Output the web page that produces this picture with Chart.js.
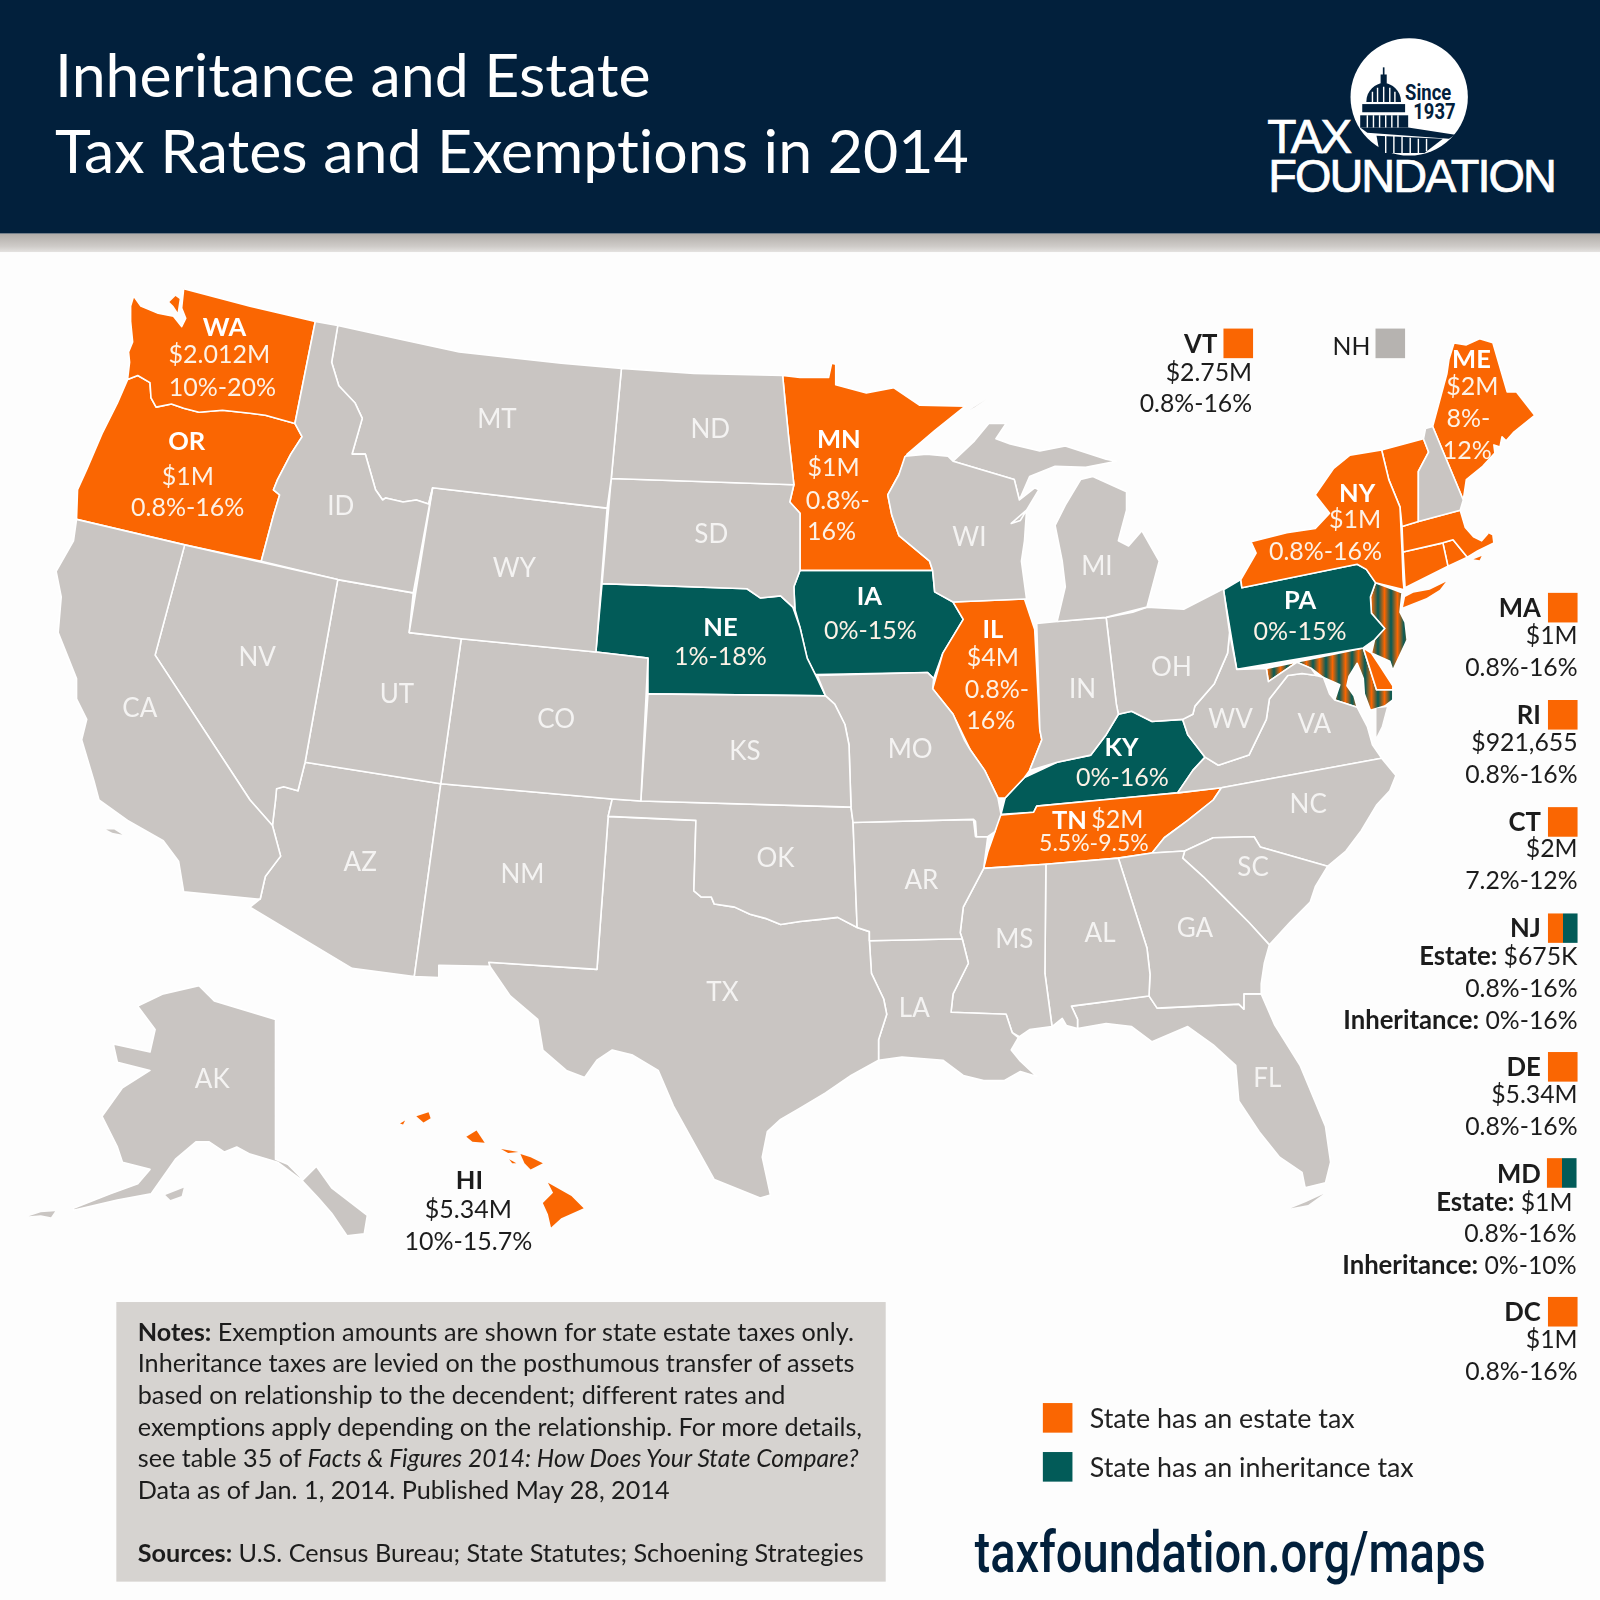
<!DOCTYPE html>
<html>
<head>
<meta charset="utf-8">
<title>Inheritance and Estate Tax Rates and Exemptions in 2014</title>
<script src="https://cdn.jsdelivr.net/npm/chart.js@4"></script>
<style>
html, body { margin: 0; padding: 0; background: #fdfdfd; }
#wrap { position: relative; width: 1600px; height: 1600px; overflow: hidden; }
#map { position: absolute; left: 0; top: 0; }
/* overlay is laid out on the same 1568 grid as the map axes */
#overlay { position: absolute; left: 0; top: 0; width: 1568px; height: 1568px; transform: scale(1.020408); transform-origin: 0 0; font-family: Lato, sans-serif; font-variant-ligatures: none; pointer-events: none; }
#header { position: absolute; left: 0; top: 0; width: 1568px; height: 229px; background: #02203c; }
#band { position: absolute; left: 0; top: 229px; width: 1568px; height: 18px; background: linear-gradient(#b0aca8, #cfccc9 70%, #e4e2e0); }
.title { position: absolute; left: 54px; color: #fff; font-size: 59.6px; font-weight: 400; white-space: nowrap; line-height: 70px; }
.key { position: absolute; color: #1c1c1c; font-size: 24.3px; white-space: nowrap; transform: translate(-100%, -50%); line-height: 30px; }
.key b { font-size: 25.2px; }
.swatch { position: absolute; width: 29px; height: 29px; }
#notes { position: absolute; left: 114px; top: 1276px; width: 754px; height: 274px; background: #d6d3d0; }
.note { position: absolute; left: 21px; color: #1c1c1c; font-size: 24.7px; white-space: nowrap; line-height: 30px; transform: translateY(-50%); }
.note i { font-size: 24.1px; }
.legendText { position: absolute; left: 1068px; color: #222; font-size: 26.3px; white-space: nowrap; line-height: 30px; transform: translateY(-50%); }
#url { position: absolute; left: 955px; top: 1490px; color: #02203c; font-family: Roboto, sans-serif; font-weight: 500; font-size: 56px; line-height: 64px; white-space: nowrap; transform-origin: 0 0; transform: scaleX(0.824); }
.logo { position: absolute; color: #fff; font-family: "Liberation Sans", sans-serif; white-space: nowrap; }
</style>
</head>
<body>
<div id="wrap">
  <canvas id="map" width="1600" height="1600"></canvas>
  <div id="overlay"></div>
</div>
<script>
// State outlines on a 1568 x 1568 map grid, as [x, y]
const WA = [[180,283],[245,300],[309,315],[289,415],[260,407],[245,405],[218,402],[195,404],[180,400],[168,396],[153,399],[148,390],[147,375],[135,368],[125,372],[127,355],[126,345],[130,335],[128,315],[128,300],[131,290],[138,300],[155,307],[170,310],[178,320],[182,312],[178,302]];
const WA_ISLAND = [[166,296],[172,290],[176,293],[174,306],[170,300]];
const OR = [[125,372],[135,368],[147,375],[148,390],[153,399],[168,396],[180,400],[195,404],[218,402],[245,405],[260,407],[289,415],[296,428],[285,445],[272,470],[268,480],[274,485],[268,505],[256,550],[181,534],[75,509],[76,480],[85,460],[100,425],[115,395]];
const CA = [[75,509],[181,534],[152,642],[245,784],[267,809],[275,839],[260,859],[255,881],[252,881],[180,874],[175,844],[160,824],[125,804],[97,784],[92,765],[80,725],[85,705],[75,685],[75,665],[67,645],[57,620],[60,585],[55,560],[72,530]];
const CA_ISLANDS = [[104,813],[112,813],[120,818],[110,816]];
const NV = [[181,534],[331,568],[299,747],[292,775],[278,771],[271,773],[270,784],[267,809],[245,784],[152,642]];
const ID = [[309,315],[331,319],[325,355],[332,378],[348,395],[355,410],[345,445],[358,445],[368,480],[375,490],[378,488],[395,492],[408,490],[420,494],[424,478],[405,581],[331,568],[256,550],[268,505],[274,485],[268,480],[272,470],[285,445],[296,428],[289,415]];
const MT = [[331,319],[390,332],[450,345],[550,356],[609,361],[599,469],[595,498],[424,478],[420,494],[408,490],[395,492],[378,488],[375,490],[368,480],[358,445],[345,445],[355,410],[348,395],[332,378],[325,355]];
const ND = [[609,361],[680,366],[767,368],[770,400],[773,430],[778,475],[599,469]];
const SD = [[599,469],[778,475],[774,492],[784,503],[784,559],[778,575],[779,597],[777,595],[765,584],[745,586],[732,577],[590,572]];
const NE = [[590,572],[732,577],[745,586],[765,584],[777,595],[784,615],[791,645],[801,665],[809,682],[635,680],[635,645],[584,639]];
const WY = [[424,478],[595,498],[584,639],[452,626],[401,620]];
const UT = [[331,568],[405,581],[401,620],[452,626],[432,768],[299,747]];
const CO = [[452,626],[584,639],[635,645],[628,785],[600,783],[432,768]];
const KS = [[635,680],[809,682],[818,690],[828,710],[832,730],[834,791],[628,785]];
const MO = [[801,662],[909,659],[915,665],[914,675],[934,700],[945,725],[951,735],[965,755],[978,782],[981,798],[975,815],[968,820],[957,820],[956,805],[954,803],[836,806],[834,791],[832,730],[828,710],[818,690],[809,682]];
const AR = [[836,806],[954,803],[956,820],[968,820],[964,851],[944,889],[941,914],[943,920],[852,922],[852,913],[840,909]];
const OK = [[600,783],[628,785],[834,791],[836,806],[840,909],[821,899],[804,901],[784,903],[765,906],[750,900],[735,896],[720,889],[700,886],[697,879],[687,879],[680,873],[682,804],[596,800]];
const NM = [[432,768],[600,783],[596,800],[585,950],[479,943],[480,947],[430,946],[430,958],[406,957]];
const AZ = [[299,747],[432,768],[406,957],[345,949],[245,889],[255,881],[260,859],[275,839],[267,809],[270,784],[271,773],[278,771],[292,775]];
const TX = [[596,800],[682,804],[680,873],[687,879],[697,879],[700,886],[720,889],[735,896],[750,900],[765,906],[784,903],[804,901],[821,899],[840,909],[852,913],[852,922],[854,954],[866,979],[869,994],[861,1019],[861,1039],[834,1054],[809,1071],[784,1086],[765,1097],[752,1109],[747,1134],[755,1171],[745,1174],[700,1156],[685,1129],[660,1084],[645,1049],[620,1034],[600,1029],[585,1039],[573,1056],[555,1049],[532,1029],[527,999],[500,976],[480,947],[479,943],[585,950]];
const LA = [[852,922],[943,920],[949,944],[934,974],[932,992],[986,994],[992,1012],[998,1017],[991,1029],[1000,1040],[1016,1055],[1000,1050],[984,1059],[964,1059],[944,1054],[924,1039],[884,1036],[861,1039],[861,1019],[869,994],[866,979],[854,954]];
const MS = [[964,851],[1025,847],[1024,954],[1031,1006],[1009,1009],[999,1016],[992,1012],[986,994],[932,992],[934,974],[949,944],[943,920],[941,914],[944,889]];
const AL = [[1025,847],[1096,841],[1124,929],[1127,955],[1126,976],[1050,986],[1056,999],[1056,1008],[1045,1005],[1041,998],[1031,1006],[1024,954]];
const GA = [[1096,841],[1129,836],[1161,834],[1159,841],[1179,859],[1199,879],[1224,904],[1244,926],[1239,944],[1236,964],[1236,974],[1219,974],[1219,989],[1214,984],[1134,988],[1126,976],[1127,955],[1124,929]];
const FL = [[1050,986],[1126,976],[1134,988],[1214,984],[1219,989],[1219,974],[1236,974],[1249,1004],[1274,1044],[1299,1104],[1304,1139],[1299,1159],[1279,1164],[1276,1149],[1254,1134],[1234,1109],[1214,1079],[1211,1044],[1189,1024],[1164,1006],[1129,1021],[1109,1006],[1084,1003],[1056,1008],[1056,999]];
const FL_KEYS = [[1265,1184],[1280,1178],[1297,1170],[1282,1181]];
const SC = [[1159,841],[1161,834],[1189,821],[1229,820],[1235,830],[1301,849],[1289,869],[1284,884],[1264,904],[1244,926],[1224,904],[1199,879],[1179,859]];
const NC = [[1197,772],[1354,743],[1368,760],[1362,775],[1349,789],[1334,814],[1319,834],[1301,849],[1235,830],[1229,820],[1189,821],[1161,834],[1129,836],[1141,821],[1164,804],[1189,784]];
const TN = [[979,799],[1013,796],[1016,790],[1100,782],[1154,777],[1197,772],[1189,784],[1164,804],[1141,821],[1129,836],[1096,841],[1025,847],[964,851],[968,835],[975,815]];
const KY = [[981,798],[985,782],[1004,762],[1036,747],[1069,740],[1084,720],[1096,700],[1109,697],[1129,707],[1159,705],[1164,720],[1181,742],[1169,755],[1154,777],[1100,782],[1016,790],[1013,796]];
const IL = [[934,590],[1004,587],[1014,617],[1019,715],[1021,725],[1009,755],[1004,762],[985,782],[978,782],[965,755],[951,735],[934,700],[914,675],[924,640],[944,607]];
const IA = [[784,559],[914,559],[916,580],[934,590],[944,607],[924,640],[915,665],[909,659],[799,661],[791,645],[784,615],[779,597],[778,575]];
const MN = [[767,368],[784,370],[812,370],[815,356],[819,357],[819,377],[849,385],[876,380],[901,397],[946,398],[916,422],[889,445],[881,465],[870,485],[874,505],[881,525],[911,550],[914,559],[784,559],[784,503],[774,492],[778,475],[773,430],[770,400]];
const WI = [[887,447],[908,445],[929,447],[934,452],[994,470],[999,490],[1014,478],[1018,480],[1000,510],[991,513],[1006,500],[1004,530],[1001,550],[1006,587],[1004,587],[934,590],[916,580],[914,559],[911,550],[881,525],[874,505],[870,485],[881,465]];
const MI_UPPER = [[934,452],[955,432],[969,415],[986,415],[976,430],[990,435],[1019,442],[1044,437],[1084,450],[1094,452],[1064,458],[1034,457],[1009,467],[999,490],[994,470]];
const MI_ISLE = [[950,402],[967,391],[955,399]];
const MI_LOWER = [[1036,609],[1044,575],[1041,550],[1034,515],[1044,495],[1059,470],[1071,467],[1104,482],[1104,500],[1096,530],[1106,535],[1119,520],[1136,550],[1124,595],[1084,605]];
const IN = [[1016,611],[1036,609],[1084,605],[1094,690],[1096,700],[1084,720],[1069,740],[1036,747],[1009,755],[1021,725],[1019,715]];
const OH = [[1084,605],[1110,600],[1124,595],[1160,597],[1199,577],[1205,620],[1203,640],[1190,670],[1171,692],[1169,700],[1159,705],[1129,707],[1109,697],[1096,700],[1094,690]];
const WV = [[1205,620],[1212,656],[1241,655],[1243,668],[1262,655],[1271,649],[1285,655],[1290,662],[1276,660],[1262,662],[1244,685],[1241,705],[1224,740],[1194,750],[1181,742],[1164,720],[1159,705],[1169,700],[1171,692],[1190,670],[1203,640]];
const VA = [[1154,777],[1169,755],[1181,742],[1194,750],[1224,740],[1241,705],[1244,685],[1262,662],[1276,660],[1290,662],[1297,664],[1303,680],[1308,686],[1330,693],[1340,712],[1345,730],[1354,743],[1197,772]];
const VA_SHORE = [[1349,694],[1359,693],[1354,712],[1349,722]];
const PA = [[1199,578],[1216,568],[1217,576],[1330,553],[1339,558],[1348,571],[1343,585],[1344,601],[1357,616],[1347,627],[1336,635],[1212,656]];
const NY = [[1216,568],[1231,542],[1226,531],[1261,522],[1289,518],[1303,503],[1289,485],[1307,459],[1323,446],[1354,441],[1361,470],[1372,497],[1374,540],[1375,568],[1376,578],[1348,571],[1339,558],[1330,553],[1217,576]];
const LONG_ISLAND = [[1377,585],[1385,581],[1401,578],[1417,570],[1411,578],[1398,586],[1375,595]];
const NJ = [[1348,571],[1374,581],[1372,600],[1377,610],[1379,627],[1365,657],[1362,648],[1344,640],[1347,627],[1357,616],[1344,601],[1343,585]];
const DE = [[1336,635],[1344,640],[1352,652],[1365,672],[1365,676],[1349,676]];
const MD = [[1241,655],[1336,635],[1349,676],[1365,676],[1365,686],[1357,692],[1343,696],[1337,680],[1336,665],[1330,650],[1322,663],[1320,672],[1327,682],[1330,693],[1308,686],[1313,671],[1297,664],[1285,655],[1271,649],[1262,655],[1243,668]];
const CT = [[1375,541],[1414,532],[1419,555],[1377,576]];
const RI = [[1414,532],[1424,529],[1438,546],[1419,555]];
const MA = [[1374,516],[1390,511],[1431,500],[1436,517],[1444,526],[1452,530],[1458,523],[1455,520],[1463,524],[1464,532],[1448,540],[1438,546],[1424,529],[1414,532],[1375,541]];
const MA_ISLAND = [[1444,548],[1452,545],[1450,549]];
const VT = [[1354,441],[1395,430],[1400,443],[1390,462],[1390,511],[1374,516],[1372,497],[1361,470]];
const NH = [[1397,420],[1404,418],[1434,490],[1431,500],[1390,511],[1390,462],[1400,443],[1395,430]];
const ME = [[1404,418],[1411,392],[1418,366],[1420,352],[1425,336],[1437,338],[1450,332],[1463,336],[1477,384],[1486,384],[1504,407],[1483,424],[1476,432],[1472,428],[1470,438],[1464,436],[1465,444],[1453,457],[1437,470],[1434,490]];
const AK = [[135,986],[160,974],[195,966],[210,981],[270,999],[270,1136],[282,1141],[297,1156],[310,1143],[325,1164],[360,1191],[357,1209],[340,1211],[325,1189],[312,1174],[295,1156],[272,1139],[245,1131],[232,1124],[220,1129],[205,1119],[192,1119],[172,1136],[148,1170],[115,1176],[72,1186],[72,1184],[108,1170],[135,1160],[147,1146],[120,1139],[115,1124],[100,1094],[120,1066],[147,1049],[115,1041],[111,1023],[147,1031],[152,1009]];
const AK_KODIAK = [[162,1171],[180,1164],[178,1172],[167,1176]];
const AK_CHAIN = [[28,1192],[40,1188],[54,1187],[50,1193],[40,1191]];
const HI_BIG = [[537,1159],[560,1172],[572,1184],[550,1194],[540,1203],[537,1190],[532,1179],[542,1169]];
const HI_MAUI = [[510,1131],[520,1134],[532,1140],[520,1146],[514,1140]];
const HI_MOLOKAI = [[491,1126],[508,1129],[498,1130]];
const HI_LANAI = [[499,1136],[506,1140],[502,1140]];
const HI_OAHU = [[457,1114],[467,1108],[475,1120],[463,1119]];
const HI_KAUAI = [[408,1094],[420,1090],[422,1096],[415,1100]];
const HI_NIIHAU = [[392,1101],[397,1098],[395,1102]];

// Which outlines belong to which tax group
const noTaxShapes = [CA, NV, ID, MT, ND, SD, WY, UT, CO, KS, MO, AR, OK, NM, AZ, TX, LA, MS, AL, GA, FL, SC, NC, WI, MI_UPPER, MI_LOWER, IN, OH, WV, VA, NH, AK];
const noTaxIslands = [CA_ISLANDS, FL_KEYS, MI_ISLE, VA_SHORE, AK_KODIAK, AK_CHAIN];
const estateShapes = [WA, OR, MN, IL, TN, NY, VT, MA, CT, RI, ME, DE];
const estateIslands = [WA_ISLAND, LONG_ISLAND, MA_ISLAND, HI_BIG, HI_MAUI, HI_MOLOKAI, HI_LANAI, HI_OAHU, HI_KAUAI, HI_NIIHAU];
const inheritanceShapes = [NE, IA, KY, PA];
const bothShapes = [NJ, MD];

// Text on the map: [label, x, y]
const plainStateLabels = [['MT',487,411],['ND',696,421],['SD',697,524],['WY',504,557],['ID',334,496],['NV',252,644],['UT',389,681],['CO',545,705],['KS',730,737],['CA',137,694],['AZ',353,845],['NM',512,857],['TX',708,973],['OK',760,841],['AR',903,863],['LA',896,988],['MS',994,921],['AL',1078,915],['GA',1171,910],['FL',1242,1057],['SC',1228,850],['NC',1282,789],['VA',1288,710],['WV',1206,705],['OH',1148,654],['IN',1061,676],['MI',1075,555],['WI',950,527],['MO',892,735],['AK',208,1058]];
const taxedStateNames = [['WA',220,321],['OR',183,433],['MN',822,431],['NE',706,615],['IA',852,585],['IL',973,617],['KY',1099,733],['TN',1048,804],['PA',1274,589],['NY',1330,484],['ME',1442,353]];
const taxedStateValues = [['$2.012M',215,348],['10%-20%',218,380],['$1M',184,467],['0.8%-16%',184,498],['$1M',817,459],['0.8%-',821,491],['16%',815,521],['1%-18%',706,644],['0%-15%',853,618],['$4M',973,645],['0.8%-',977,676],['16%',971,707],['0%-16%',1100,762],['$2M',1095,804],['0%-15%',1274,619],['$1M',1328,510],['0.8%-16%',1299,541],['$2M',1443,379],['8%-',1439,411],['12%',1438,442]];
const tennesseeRate = ['5.5%-9.5%',1072,827];
const hawaiiName = ['HI',460,1157];
const hawaiiValues = [['$5.34M',459,1186],['10%-15.7%',459,1217]];

// Side key: [html, right edge, y]
const keyLines = [
  ['<b>VT</b>',1193,336],['$2.75M',1227,364],['0.8%-16%',1227,395],['NH',1343,339],
  ['<b>MA</b>',1510,595],['$1M',1546,622],['0.8%-16%',1546,653],
  ['<b>RI</b>',1510,700],['$921,655',1546,727],['0.8%-16%',1546,758],
  ['<b>CT</b>',1510,805],['$2M',1546,831],['7.2%-12%',1546,862],
  ['<b>NJ</b>',1510,909],['<b>Estate:</b> $675K',1546,936],['0.8%-16%',1546,968],['<b>Inheritance:</b> 0%-16%',1546,999],
  ['<b>DE</b>',1510,1045],['$5.34M',1546,1072],['0.8%-16%',1546,1103],
  ['<b>MD</b>',1510,1150],['<b>Estate:</b> $1M',1541,1177],['0.8%-16%',1545,1208],['<b>Inheritance:</b> 0%-10%',1545,1239],
  ['<b>DC</b>',1510,1285],['$1M',1546,1312],['0.8%-16%',1546,1343]
];
const orangeSwatches = [[1199,322],[1517,581],[1517,686],[1517,791],[1517,1031],[1517,1271],[1022,1375]];
const splitSwatches = [[1517,895],[1516,1135]];
const noteLines = [
  ['<b>Notes:</b> Exemption amounts are shown for state estate taxes only.',1305],
  ['Inheritance taxes are levied on the posthumous transfer of assets',1336],
  ['based on relationship to the decendent; different rates and',1367],
  ['exemptions apply depending on the relationship. For more details,',1398],
  ['see table 35 of <i>Facts &amp; Figures 2014: How Does Your State Compare?</i>',1429],
  ['Data as of Jan. 1, 2014. Published May 28, 2014',1460],
  ['<b>Sources:</b> U.S. Census Bureau; State Statutes; Schoening Strategies',1522]
];

const ORANGE = '#fa6602';
const TEAL = '#025b58';
const GREY = '#c9c5c2';
const NAVY = '#02203c';

// Vertical orange/teal stripes for states that have both taxes
function stripePattern() {
    const tile = document.createElement('canvas');
    tile.width = 13;
    tile.height = 4;
    const tileCtx = tile.getContext('2d');
    const gradient = tileCtx.createLinearGradient(0, 0, 13, 0);
    gradient.addColorStop(0, TEAL);
    gradient.addColorStop(0.5, ORANGE);
    gradient.addColorStop(1, TEAL);
    tileCtx.fillStyle = gradient;
    tileCtx.fillRect(0, 0, 13, 4);
    return tileCtx.createPattern(tile, 'repeat');
}

function shapeDataset(outline, color, lineWidth) {
    const closed = outline.concat([outline[0]]);
    return {
        data: closed.map(p => ({ x: p[0], y: p[1] })),
        showLine: true,
        fill: 'shape',
        backgroundColor: color,
        borderColor: '#ffffff',
        borderWidth: lineWidth,
        borderJoinStyle: 'round',
        pointRadius: 0,
        pointHoverRadius: 0,
        tension: 0
    };
}

// Writes the state labels at their map positions through the chart scales
const mapLabels = {
    id: 'mapLabels',
    afterDatasetsDraw(chart) {
        const ctx = chart.ctx;
        const x = chart.scales.x;
        const y = chart.scales.y;
        const write = (items, font, color) => {
            ctx.font = font;
            ctx.fillStyle = color;
            items.forEach(item => ctx.fillText(item[0], x.getPixelForValue(item[1]), y.getPixelForValue(item[2])));
        };
        ctx.save();
        ctx.textAlign = 'center';
        ctx.textBaseline = 'middle';
        write(plainStateLabels, '400 26px Lato', '#f4f3f2');
        write(taxedStateNames, '700 25.5px Lato', '#ffffff');
        write(taxedStateValues, '400 25px Lato', '#fdf2e6');
        write([tennesseeRate], '400 23px Lato', '#fdf2e6');
        write([hawaiiName], '700 25.5px Lato', '#1c1c1c');
        write(hawaiiValues, '400 25px Lato', '#1c1c1c');
        ctx.restore();
    }
};

function addElement(className, style, html) {
    const el = document.createElement('div');
    el.className = className;
    Object.assign(el.style, style);
    if (html) el.innerHTML = html;
    document.getElementById('overlay').appendChild(el);
    return el;
}

function buildOverlay() {
    addElement('', {}, '').id = 'header';
    addElement('', {}, '').id = 'band';
    addElement('title', { top: '37px' }, 'Inheritance and Estate');
    addElement('title', { top: '112px' }, 'Tax Rates and Exemptions in 2014');

    // Tax Foundation logo
    document.getElementById('overlay').insertAdjacentHTML('beforeend', `
      <svg style="position:absolute;left:1320px;top:35px" width="125" height="125" viewBox="1320 35 125 125">
        <circle cx="1381" cy="95" r="57.5" fill="#fff"/>
        <g fill="${NAVY}">
          <rect x="1355.2" y="66" width="1.6" height="8"/>
          <rect x="1353" y="73" width="6" height="9"/>
          <path d="M1339 100 C1339 88 1348 82 1356 81 C1364 82 1373 88 1373 100 Z"/>
          <rect x="1335" y="102" width="42" height="8"/>
          <rect x="1333" y="113" width="47" height="12"/>
          <path d="M1333 125 L1380 125 L1426 132 L1420 136 L1340 130 Z"/>
          <path d="M1349 133 L1414 136 L1396 150 L1352 150 Z"/>
        </g>
        <g stroke="#fff" stroke-width="1.4">
          <path d="M1345 90 V100 M1350 86 V100 M1356 85 V100 M1362 86 V100 M1367 90 V100"/>
          <path d="M1340 113 V125 M1346 113 V125 M1352 113 V125 M1358 113 V125 M1364 113 V125 M1370 113 V125"/>
          <path d="M1358 133 V150 M1366 133 V150 M1374 134 V150 M1382 135 V150 M1390 136 V150 M1398 136 V148"/>
        </g>
      </svg>`);
    addElement('logo', { left: '1377px', top: '80px', color: NAVY, fontFamily: 'Roboto', fontWeight: 700, fontSize: '22px', lineHeight: '22px', transformOrigin: '0 0', transform: 'scaleX(0.82)' }, 'Since');
    addElement('logo', { left: '1385px', top: '99px', color: NAVY, fontFamily: 'Roboto', fontWeight: 700, fontSize: '22px', lineHeight: '22px', transformOrigin: '0 0', transform: 'scaleX(0.82)' }, '1937');
    addElement('logo', { left: '1242px', top: '108px', fontSize: '47px', lineHeight: '52px', letterSpacing: '-2.4px', webkitTextStroke: '0.7px #fff' }, 'TAX');
    addElement('logo', { left: '1243px', top: '146px', fontSize: '46px', lineHeight: '52px', letterSpacing: '-2px', webkitTextStroke: '0.7px #fff' }, 'FOUNDATION');

    keyLines.forEach(line => addElement('key', { left: line[1] + 'px', top: line[2] + 'px' }, line[0]));

    orangeSwatches.forEach(s => addElement('swatch', { left: s[0] + 'px', top: s[1] + 'px', background: ORANGE }));
    splitSwatches.forEach(s => addElement('swatch', { left: s[0] + 'px', top: s[1] + 'px', background: `linear-gradient(90deg, ${ORANGE} 50%, ${TEAL} 50%)` }));
    addElement('swatch', { left: '1348px', top: '322px', background: '#b6b3b0' });
    addElement('swatch', { left: '1022px', top: '1423px', background: TEAL });

    const notes = addElement('', {});
    notes.id = 'notes';
    noteLines.forEach(line => {
        const el = addElement('note', { top: (line[1] - 1276) + 'px' }, line[0]);
        notes.appendChild(el);
    });

    addElement('legendText', { top: '1389px' }, 'State has an estate tax');
    addElement('legendText', { top: '1437px' }, 'State has an inheritance tax');
    addElement('', {}, 'taxfoundation.org/maps').id = 'url';
}

function drawMap() {
    const stripes = stripePattern();
    const datasets = [
        ...noTaxShapes.map(s => shapeDataset(s, GREY, 1.6)),
        ...noTaxIslands.map(s => shapeDataset(s, GREY, 0)),
        ...estateShapes.map(s => shapeDataset(s, ORANGE, 1.6)),
        ...estateIslands.map(s => shapeDataset(s, ORANGE, 0)),
        ...inheritanceShapes.map(s => shapeDataset(s, TEAL, 1.6)),
        ...bothShapes.map(s => shapeDataset(s, stripes, 1.6))
    ];

    new Chart(document.getElementById('map').getContext('2d'), {
        type: 'scatter',
        data: { datasets },
        plugins: [mapLabels],
        options: {
            responsive: false,
            animation: false,
            devicePixelRatio: 1,
            layout: { padding: 0 },
            scales: {
                x: { type: 'linear', display: false, min: 0, max: 1568 },
                y: { type: 'linear', display: false, min: 0, max: 1568, reverse: true }
            },
            plugins: {
                legend: { display: false },
                tooltip: { enabled: false }
            }
        }
    });
}

buildOverlay();
drawMap();
</script>
</body>
</html>
